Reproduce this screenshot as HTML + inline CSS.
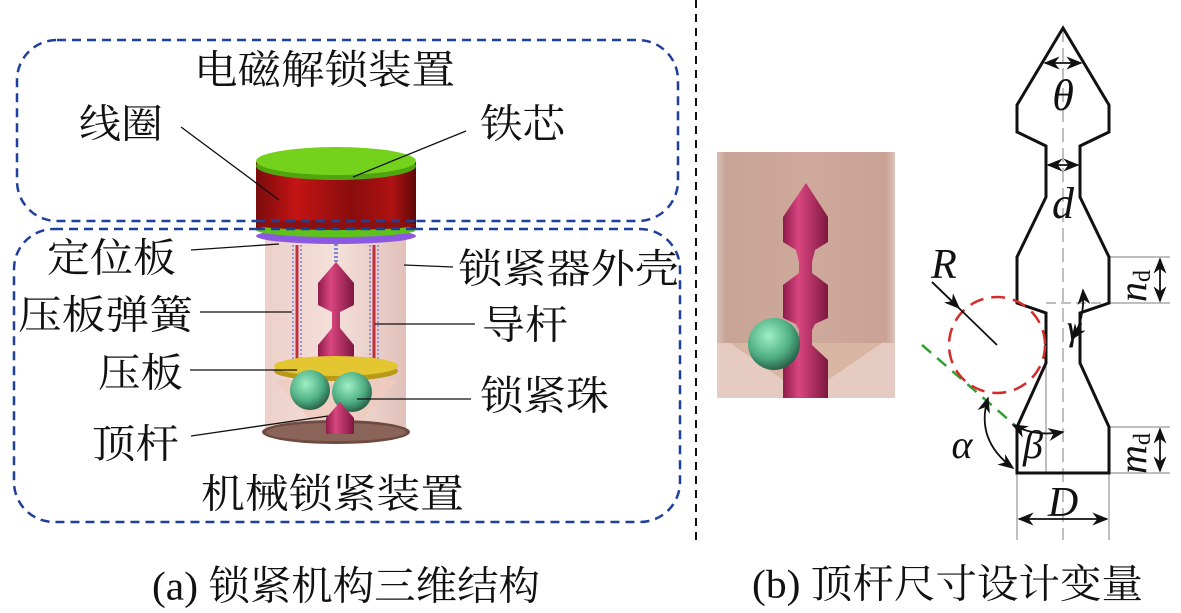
<!DOCTYPE html>
<html><head><meta charset="utf-8"><style>
html,body{margin:0;padding:0;background:#fff;}
svg{display:block;}
.cn{font-family:"Liberation Serif","Noto Serif CJK SC",serif;font-size:40px;fill:#111;}
.m{font-family:"Liberation Serif",serif;font-style:italic;fill:#111;}
</style></head><body>
<svg width="1181" height="613" viewBox="0 0 1181 613" xmlns="http://www.w3.org/2000/svg">
<defs>
<linearGradient id="red" x1="0" x2="1"><stop offset="0" stop-color="#7a0c0c"/><stop offset="0.25" stop-color="#c41414"/><stop offset="0.6" stop-color="#8a0d0d"/><stop offset="0.85" stop-color="#b01212"/><stop offset="1" stop-color="#5e0808"/></linearGradient>
<linearGradient id="rod" x1="0" x2="1"><stop offset="0" stop-color="#8e1c4a"/><stop offset="0.35" stop-color="#d94680"/><stop offset="1" stop-color="#7d1740"/></linearGradient>
<radialGradient id="ball" cx="0.4" cy="0.35" r="0.7"><stop offset="0" stop-color="#9ff0c4"/><stop offset="0.6" stop-color="#4fae84"/><stop offset="1" stop-color="#23553f"/></radialGradient>
<linearGradient id="shell" x1="0" x2="1"><stop offset="0" stop-color="#e9c8c0"/><stop offset="0.5" stop-color="#f3dad3"/><stop offset="1" stop-color="#dcb6ae"/></linearGradient>
<linearGradient id="photo" x1="0" x2="1"><stop offset="0" stop-color="#d9bfb4"/><stop offset="0.05" stop-color="#c7a496"/><stop offset="0.5" stop-color="#cfa99b"/><stop offset="0.95" stop-color="#c9a496"/><stop offset="1" stop-color="#dcc4bb"/></linearGradient>
<marker id="ar" viewBox="0 0 10 10" refX="9" refY="5" markerWidth="9" markerHeight="9" orient="auto-start-reverse"><path d="M0,1 L10,5 L0,9 L3,5z" fill="#111"/></marker>
</defs>

<rect x="17" y="40" width="661" height="181" rx="40" fill="none" stroke="#1f3f9c" stroke-width="2.5" stroke-dasharray="9,6"/>
<rect x="14" y="229" width="666" height="293" rx="40" fill="none" stroke="#1f3f9c" stroke-width="2.5" stroke-dasharray="9,6"/>
<line x1="696" y1="0" x2="696" y2="545" stroke="#111" stroke-width="2" stroke-dasharray="8,6"/>

<rect x="265" y="240" width="141" height="192" fill="url(#shell)" opacity="0.85"/>
<ellipse cx="336" cy="432" rx="74" ry="12" fill="#6e4a40"/>
<ellipse cx="336" cy="432" rx="70" ry="9" fill="#8a6458"/>
<path d="M275,380 L397,380 L362,420 L310,420z" fill="#efcbbd" opacity="0.8"/>
<g stroke="#c03040" stroke-width="3"><line x1="297" y1="245" x2="297" y2="365"/><line x1="374" y1="245" x2="374" y2="365"/></g>
<g stroke="#7a86d8" stroke-width="1.5" stroke-dasharray="2,2"><line x1="293" y1="245" x2="293" y2="365"/><line x1="301" y1="245" x2="301" y2="365"/><line x1="370" y1="245" x2="370" y2="365"/><line x1="378" y1="245" x2="378" y2="365"/></g>
<line x1="336" y1="240" x2="336" y2="262" stroke="#7a86d8" stroke-width="4" stroke-dasharray="2,2"/>
<path d="M336,262 L354,283 L354,305 L340,312 L340,328 L354,345 L354,362 L318,362 L318,345 L332,328 L332,312 L318,305 L318,283z" fill="url(#rod)"/>
<ellipse cx="336" cy="371" rx="62" ry="10" fill="#b89a18"/>
<ellipse cx="336" cy="366" rx="62" ry="10" fill="#e4c630"/>
<circle cx="310" cy="390" r="20" fill="url(#ball)"/>
<circle cx="352" cy="392" r="20" fill="url(#ball)"/>
<path d="M340,402 L354,418 L354,434 L326,434 L326,418z" fill="url(#rod)"/>
<rect x="256" y="162" width="160" height="68" fill="url(#red)"/>
<ellipse cx="336" cy="236" rx="80" ry="8" fill="#8c5ae0"/>
<ellipse cx="336" cy="230" rx="80" ry="7" fill="#5fc21a"/>
<ellipse cx="336" cy="225" rx="80" ry="5" fill="#8b1010"/>
<ellipse cx="336" cy="166" rx="80" ry="14" fill="#4fa410"/>
<ellipse cx="336" cy="161" rx="80" ry="14" fill="#74d21c"/>
<line x1="256" y1="221" x2="416" y2="221" stroke="#1f3f9c" stroke-width="2.5" stroke-dasharray="9,6"/>
<line x1="256" y1="229" x2="416" y2="229" stroke="#1f3f9c" stroke-width="2.5" stroke-dasharray="9,6"/>

<g stroke="#111" stroke-width="1.3">
<line x1="181" y1="127" x2="279" y2="200"/>
<line x1="466" y1="131" x2="353" y2="177"/>
<line x1="191" y1="250" x2="279" y2="244"/>
<line x1="453" y1="267" x2="404" y2="265"/>
<line x1="200" y1="312" x2="292" y2="312"/>
<line x1="475" y1="324" x2="375" y2="324"/>
<line x1="190" y1="370" x2="297" y2="370"/>
<line x1="471" y1="399" x2="357" y2="399"/>
<line x1="191" y1="436" x2="328" y2="416"/>
</g>

<g class="cn" dominant-baseline="central">
<text x="194" y="70" textLength="261" lengthAdjust="spacingAndGlyphs">电磁解锁装置</text>
<text x="79" y="124" textLength="84" lengthAdjust="spacingAndGlyphs">线圈</text>
<text x="480" y="124" textLength="85" lengthAdjust="spacingAndGlyphs">铁芯</text>
<text x="47" y="258" textLength="129" lengthAdjust="spacingAndGlyphs">定位板</text>
<text x="458" y="269" textLength="221" lengthAdjust="spacingAndGlyphs">锁紧器外壳</text>
<text x="18" y="315" textLength="175" lengthAdjust="spacingAndGlyphs">压板弹簧</text>
<text x="482" y="325" textLength="86" lengthAdjust="spacingAndGlyphs">导杆</text>
<text x="98" y="373" textLength="85" lengthAdjust="spacingAndGlyphs">压板</text>
<text x="480" y="396" textLength="129" lengthAdjust="spacingAndGlyphs">锁紧珠</text>
<text x="92" y="444" textLength="87" lengthAdjust="spacingAndGlyphs">顶杆</text>
<text x="201" y="494" textLength="263" lengthAdjust="spacingAndGlyphs">机械锁紧装置</text>
<text x="152" y="586" textLength="388" lengthAdjust="spacingAndGlyphs">(a) 锁紧机构三维结构</text>
<text x="752" y="584" textLength="391" lengthAdjust="spacingAndGlyphs">(b) 顶杆尺寸设计变量</text>
</g>

<rect x="717" y="152" width="178" height="246" fill="url(#photo)"/>
<path d="M717,343 L895,343 L895,398 L717,398z" fill="#e6cbc2"/>
<path d="M730,343 L882,343 L828,380 L783,380z" fill="#d9b5a3"/>
<path d="M806,183 L828,217 L828,242 L815,250 L812,262 L812,273 L828,285 L828,318 L815,324 L812,330 L812,345 L828,360 L828,398 L783,398 L783,360 L799,345 L799,330 L796,324 L783,318 L783,285 L799,273 L799,262 L796,250 L783,242 L783,217z" fill="url(#rod)"/>
<circle cx="774" cy="344" r="26" fill="url(#ball)"/>

<g stroke="#aaa" stroke-width="1.5" fill="none">
<line x1="1063" y1="28" x2="1063" y2="540" stroke-dasharray="14,6"/>
<line x1="1046" y1="303" x2="1109" y2="303" stroke-dasharray="10,5"/>
<line x1="1109" y1="257" x2="1170" y2="257"/>
<line x1="1109" y1="303" x2="1170" y2="303"/>
<line x1="1109" y1="427" x2="1170" y2="427"/>
<line x1="1109" y1="473" x2="1170" y2="473"/>
<line x1="1017" y1="473" x2="1017" y2="540"/>
<line x1="1109" y1="473" x2="1109" y2="540"/>
<line x1="1046" y1="313" x2="1046" y2="473"/>
</g>
<path d="M1063,28 L1109,105 L1109,132 L1080,146 L1080,197 L1109,257 L1109,303 L1080,313 L1080,363 L1109,427 L1109,473 L1017,473 L1017,427 L1046,363 L1046,313 L1017,303 L1017,257 L1046,197 L1046,146 L1017,132 L1017,105z" fill="none" stroke="#111" stroke-width="3" stroke-linejoin="miter"/>
<line x1="922" y1="345" x2="1017" y2="427" stroke="#2fa02f" stroke-width="2.5" stroke-dasharray="12,8"/>
<circle cx="997" cy="345" r="48" fill="none" stroke="#d42a2a" stroke-width="2.5" stroke-dasharray="14,8"/>
<g stroke="#111" stroke-width="1.8" fill="none">
<line x1="1045" y1="63" x2="1081" y2="63" marker-start="url(#ar)" marker-end="url(#ar)"/>
<line x1="1048" y1="165" x2="1078" y2="165" marker-start="url(#ar)" marker-end="url(#ar)"/>
<line x1="1160" y1="259" x2="1160" y2="301" marker-start="url(#ar)" marker-end="url(#ar)"/>
<line x1="1160" y1="429" x2="1160" y2="471" marker-start="url(#ar)" marker-end="url(#ar)"/>
<line x1="1019" y1="519" x2="1107" y2="519" marker-start="url(#ar)" marker-end="url(#ar)"/>
<line x1="932" y1="282" x2="997" y2="345"/>
<line x1="932" y1="282" x2="959" y2="308" marker-end="url(#ar)"/>
<path d="M988,398 Q975,440 1013,468" marker-start="url(#ar)" marker-end="url(#ar)"/>
<path d="M1013,425 Q1035,437 1063,432" marker-start="url(#ar)" marker-end="url(#ar)"/>
<path d="M1083,290 Q1085,320 1072,339" marker-start="url(#ar)" marker-end="url(#ar)"/>
</g>
<g class="m">
<text x="1063" y="110" font-size="44" text-anchor="middle">θ</text>
<text x="1063" y="218" font-size="44" text-anchor="middle">d</text>
<text x="944" y="278" font-size="42" text-anchor="middle">R</text>
<text x="1074" y="340" font-size="36" text-anchor="middle">γ</text>
<text x="962" y="458" font-size="40" text-anchor="middle">α</text>
<text x="1033" y="458" font-size="40" text-anchor="middle">β</text>
<text x="1063" y="516" font-size="42" text-anchor="middle">D</text>
<text transform="translate(1146,302) rotate(-90)" font-size="40">n<tspan font-style="normal" font-size="24" dy="4">d</tspan></text>
<text transform="translate(1146,474) rotate(-90)" font-size="40">m<tspan font-style="normal" font-size="24" dy="4">d</tspan></text>
</g>
</svg>
</body></html>
